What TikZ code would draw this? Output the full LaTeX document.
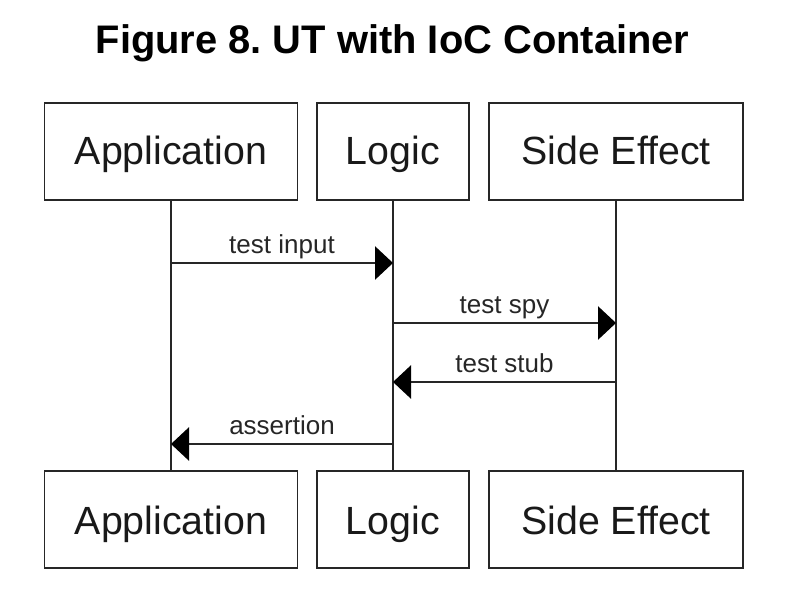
\documentclass[tikz,border=0pt]{standalone}
\usepackage{fontspec}
\setmainfont{Liberation Sans}
\usetikzlibrary{arrows.meta}
\frenchspacing
\begin{document}
\begin{tikzpicture}[x=0.75pt,y=-0.75pt,
  actor/.style={draw=black!85,line width=1.1pt,inner sep=0pt,minimum height=72.75pt},
  atext/.style={font=\fontsize{29.5}{30}\selectfont,anchor=base,text=black!90},
  life/.style={draw=black!85,line width=1.1pt},
  msg/.style={draw=black!85,line width=1.1pt,-{Triangle[length=13.5pt,width=25pt,black]}},
  mlabel/.style={font=\fontsize{19.5}{20}\selectfont,anchor=base,text=black!85}]
\useasboundingbox (0,0) rectangle (788,592);
% title
\node[font=\bfseries\fontsize{29.9}{30}\selectfont,anchor=base] (title) at (392.5,53.3) {Figure 8. UT with IoC Container};
% top boxes
\node[actor,minimum width=189.75pt] (appT) at (171,151.5) {};
\node[actor,minimum width=114pt] (logT) at (393,151.5) {};
\node[actor,minimum width=190.5pt] (sideT) at (616,151.5) {};
% bottom boxes
\node[actor,minimum width=189.75pt] (appB) at (171,519.5) {};
\node[actor,minimum width=114pt] (logB) at (393,519.5) {};
\node[actor,minimum width=190.5pt] (sideB) at (616,519.5) {};
% texts
\node[atext] (appTt) at (171,164.5) {Application};
\node[atext] (logTt) at (393,164.5) {Logic};
\node[atext] (sideTt) at (616,164.5) {Side Effect};
\node[atext] (appBt) at (171,534) {Application};
\node[atext] (logBt) at (393,534) {Logic};
\node[atext] (sideBt) at (616,534) {Side Effect};
% lifelines
\draw[life] (appT.south) -- (appB.north);
\draw[life] (logT.south) -- (logB.north);
\draw[life] (sideT.south) -- (sideB.north);
% message anchor points
\coordinate (a1) at (171,263);
\coordinate (l1) at (393,263);
\coordinate (l2) at (393,323);
\coordinate (s2) at (616,323);
\coordinate (s3) at (616,382);
\coordinate (l3) at (393,382);
\coordinate (l4) at (393,444);
\coordinate (a4) at (171,444);
\draw[msg] (a1) -- (l1);
\draw[msg] (l2) -- (s2);
\draw[msg] (s3) -- (l3);
\draw[msg] (l4) -- (a4);
\node[mlabel] (m1) at (282,253.5) {test input};
\node[mlabel] (m2) at (504.5,313.5) {test spy};
\node[mlabel] (m3) at (504.5,372.5) {test stub};
\node[mlabel] (m4) at (282,434.5) {assertion};
\end{tikzpicture}
\end{document}
